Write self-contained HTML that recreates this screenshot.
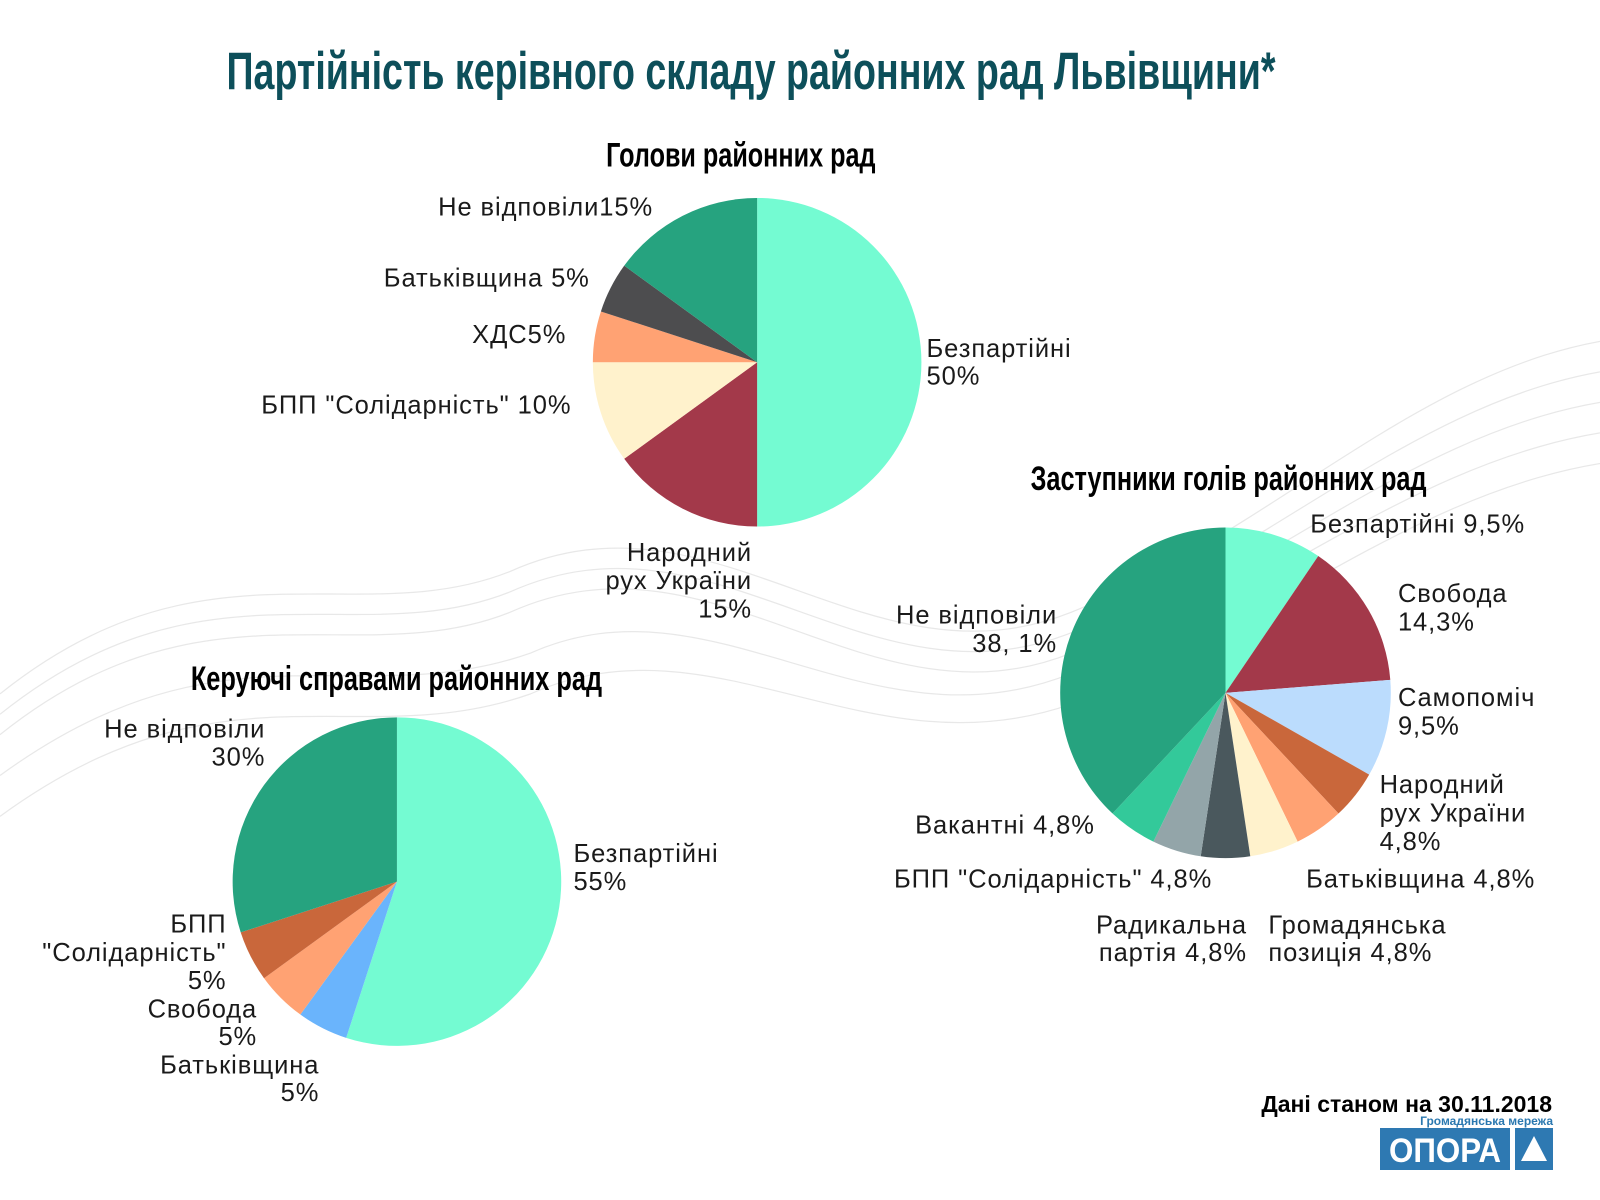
<!DOCTYPE html>
<html><head><meta charset="utf-8"><style>
html,body{margin:0;padding:0;background:#fff}
svg{display:block}
.lbl{font-family:"Liberation Sans","DejaVu Sans",sans-serif;font-size:25px;fill:#1a1a1a;letter-spacing:0.9px}
.h{font-family:"Liberation Sans",sans-serif;fill:#000}
</style></head><body>
<svg id="chart" width="1600" height="1200" viewBox="0 0 1600 1200" xmlns="http://www.w3.org/2000/svg">
<g transform="scale(1.0204)">
<g fill="none" stroke="#e8e8e8" stroke-width="1.2">
<path d="M0,680 C200,520 350,620 500,560 C700,470 850,680 1050,600 C1250,520 1400,350 1600,330"/>
<path d="M0,700 C200,540 350,640 500,580 C700,490 850,700 1050,620 C1250,540 1400,380 1600,360"/>
<path d="M0,720 C200,560 350,660 500,600 C700,510 850,720 1050,640 C1250,560 1400,410 1600,390"/>
<path d="M0,760 C220,600 350,700 520,640 C700,560 850,740 1050,660 C1250,580 1400,440 1600,420"/>
<path d="M0,800 C220,640 350,740 520,680 C700,600 850,760 1050,690 C1250,610 1400,470 1600,450"/>
</g>
<text class="h" x="222" y="87" font-size="52" font-weight="bold" style="fill:#0d4f5a" textLength="1028" lengthAdjust="spacingAndGlyphs">Партійність керівного складу районних рад Львівщини*</text>
<text class="h" x="594" y="163" font-size="34" font-weight="bold" textLength="264" lengthAdjust="spacingAndGlyphs">Голови районних рад</text>
<text class="h" x="1010" y="480" font-size="34" font-weight="bold" textLength="388" lengthAdjust="spacingAndGlyphs">Заступники голів районних рад</text>
<text class="h" x="187" y="676" font-size="34" font-weight="bold" textLength="403" lengthAdjust="spacingAndGlyphs">Керуючі справами районних рад</text>
<g id="pies"></g>
<g>
<text class="lbl" x="908" y="350">Безпартійні</text><text class="lbl" x="908" y="377">50%</text>
<text class="lbl" x="737" y="550" text-anchor="end">Народний</text><text class="lbl" x="737" y="577" text-anchor="end">рух України</text><text class="lbl" x="737" y="605" text-anchor="end">15%</text>
<text class="lbl" x="560" y="405" text-anchor="end">БПП "Солідарність" 10%</text>
<text class="lbl" x="555" y="336" text-anchor="end">ХДС5%</text>
<text class="lbl" x="578" y="281" text-anchor="end">Батьківщина 5%</text>
<text class="lbl" x="640" y="211" text-anchor="end">Не відповіли15%</text>
</g>
<g>
<text class="lbl" x="1284" y="522">Безпартійні 9,5%</text>
<text class="lbl" x="1370" y="590">Свобода</text><text class="lbl" x="1370" y="618">14,3%</text>
<text class="lbl" x="1370" y="692">Самопоміч</text><text class="lbl" x="1370" y="720">9,5%</text>
<text class="lbl" x="1352" y="777">Народний</text><text class="lbl" x="1352" y="805">рух України</text><text class="lbl" x="1352" y="833">4,8%</text>
<text class="lbl" x="1280" y="870">Батьківщина 4,8%</text>
<text class="lbl" x="1243" y="915">Громадянська</text><text class="lbl" x="1243" y="942">позиція 4,8%</text>
<text class="lbl" x="1222" y="915" text-anchor="end">Радикальна</text><text class="lbl" x="1222" y="942" text-anchor="end">партія 4,8%</text>
<text class="lbl" x="1188" y="870" text-anchor="end">БПП "Солідарність" 4,8%</text>
<text class="lbl" x="1073" y="817" text-anchor="end">Вакантні 4,8%</text>
<text class="lbl" x="1036" y="611" text-anchor="end">Не відповіли</text><text class="lbl" x="1036" y="639" text-anchor="end">38, 1%</text>
</g>
<g>
<text class="lbl" x="562" y="845">Безпартійні</text><text class="lbl" x="562" y="872">55%</text>
<text class="lbl" x="260" y="723" text-anchor="end">Не відповіли</text><text class="lbl" x="260" y="750" text-anchor="end">30%</text>
<text class="lbl" x="222" y="914" text-anchor="end">БПП</text><text class="lbl" x="222" y="942" text-anchor="end">"Солідарність"</text><text class="lbl" x="222" y="969" text-anchor="end">5%</text>
<text class="lbl" x="252" y="997" text-anchor="end">Свобода</text><text class="lbl" x="252" y="1024" text-anchor="end">5%</text>
<text class="lbl" x="313" y="1052" text-anchor="end">Батьківщина</text><text class="lbl" x="313" y="1079" text-anchor="end">5%</text>
</g>
</g>
<text class="h" x="1552" y="1112" font-size="23" font-weight="bold" text-anchor="end">Дані станом на 30.11.2018</text>
<g>
<text x="1553" y="1125" font-family="Liberation Sans,sans-serif" font-size="12" font-weight="bold" fill="#2a78b0" text-anchor="end">Громадянська мережа</text>
<rect x="1380" y="1128" width="130" height="42" fill="#2e79b2"/>
<text x="1445" y="1162" font-family="Liberation Sans,sans-serif" font-size="34" font-weight="bold" fill="#fff" text-anchor="middle" textLength="112" lengthAdjust="spacingAndGlyphs">ОПОРА</text>
<rect x="1515" y="1128" width="38" height="42" fill="#2e79b2"/>
<polygon points="1534,1136 1547,1161 1521,1161" fill="#fff"/>
</g>
</svg>
<script>
const pie1Cats=["Безпартійні","Народний рух України","БПП Солідарність","ХДС","Батьківщина","Не відповіли"];
const pie1Vals=[50,15,10,5,5,15];
const pie1Cols=["#74fbd2","#a3394a","#fff2cc","#ffa273","#4d4d4f","#26a37f"];
const pie2Cats=["Безпартійні","Свобода","Самопоміч","Народний рух України","Батьківщина","Громадянська позиція","Радикальна партія","БПП Солідарність","Вакантні","Не відповіли"];
const pie2Vals=[9.5,14.3,9.5,4.8,4.8,4.8,4.8,4.8,4.8,38.1];
const pie2Cols=["#74fbd2","#a3394a","#bbdcfd","#c9673b","#ffa273","#fff2cc","#4a585d","#93a5a9","#33c99a","#26a37f"];
const pie3Cats=["Безпартійні","Батьківщина","Свобода","БПП Солідарність","Не відповіли"];
const pie3Vals=[55,5,5,5,30];
const pie3Cols=["#74fbd2","#6ab4fc","#ffa273","#c9673b","#26a37f"];
const NS="http://www.w3.org/2000/svg";
function drawPie(id,cats,vals,cols,cx,cy,r){
  const g=document.createElementNS(NS,"g");
  
  
  const tot=vals.reduce((a,b)=>a+b,0);
  let a0=0;
  vals.forEach((v,i)=>{
    const a1=a0+v/tot*Math.PI*2;
    const x0=cx+r*Math.sin(a0),y0=cy-r*Math.cos(a0),x1=cx+r*Math.sin(a1),y1=cy-r*Math.cos(a1);
    const p=document.createElementNS(NS,"path");
    p.setAttribute("d",`M${cx},${cy}L${x0},${y0}A${r},${r} 0 ${a1-a0>Math.PI?1:0} 1 ${x1},${y1}Z`);
    p.setAttribute("fill",cols[i]);
    
    
    g.appendChild(p);a0=a1;
  });
  document.getElementById("pies").appendChild(g);
}
drawPie("pie-heads",pie1Cats,pie1Vals,pie1Cols,742,355,161);
drawPie("pie-deputies",pie2Cats,pie2Vals,pie2Cols,1201,679,162);
drawPie("pie-managers",pie3Cats,pie3Vals,pie3Cols,389,864,161);
</script>
</body></html>
